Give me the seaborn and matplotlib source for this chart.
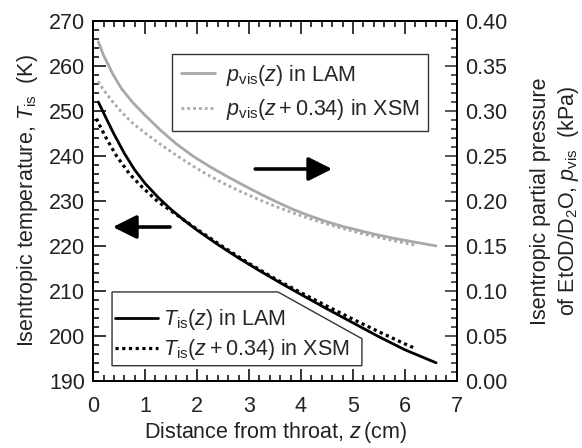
import numpy as np
import pandas as pd
import seaborn as sns
import matplotlib.pyplot as plt
from matplotlib.patches import Polygon
from matplotlib.ticker import MultipleLocator

# isentropic temperature (K), left axis
z_t_lam = [0.1, 0.25, 0.4, 0.6, 0.8, 1.0, 1.25, 1.5, 1.75, 2.0, 2.4, 2.8, 3.2, 3.6, 4.0,
           4.5, 5.0, 5.5, 6.0, 6.6]
t_lam = [252.0, 248.4, 244.9, 240.6, 236.9, 233.9, 230.8, 228.1, 225.7, 223.5, 220.3, 217.3,
         214.5, 211.8, 209.2, 206.0, 202.9, 199.8, 196.9, 194.0]
z_t_xsm = [0.06, 0.25, 0.45, 0.7, 0.95, 1.25, 1.6, 2.0, 2.5, 3.0, 3.5, 4.0, 4.5, 5.0, 5.5,
           6.0, 6.22]
t_xsm = [248.3, 244.0, 240.0, 236.0, 233.0, 229.8, 227.0, 223.7, 219.8, 216.1, 212.7, 209.6,
         206.6, 203.7, 200.9, 198.2, 197.1]

# isentropic partial pressure (kPa), right axis
z_p_lam = [0.1, 0.2, 0.38, 0.55, 0.77, 1.0, 1.29, 1.6, 1.93, 2.25, 2.57, 2.9, 3.21, 3.5, 3.85,
           4.15, 4.49, 4.8, 5.13, 5.45, 5.78, 6.2, 6.6]
p_lam = [0.377, 0.362, 0.341, 0.3245, 0.309, 0.2952, 0.2790, 0.2635, 0.2495, 0.2380, 0.2275,
         0.2172, 0.2080, 0.1997, 0.1905, 0.1838, 0.1770, 0.1717, 0.1670, 0.1625, 0.1585, 0.1541,
         0.1500]
z_p_xsm = [0.1, 0.2, 0.38, 0.55, 0.77, 1.0, 1.29, 1.6, 1.93, 2.25, 2.57, 2.9, 3.21, 3.5, 3.85,
           4.15, 4.49, 4.8, 5.13, 5.45, 5.78, 6.19]
p_xsm = [0.333, 0.3235, 0.310, 0.2985, 0.286, 0.2755, 0.2632, 0.2508, 0.2385, 0.2275, 0.2178,
         0.2088, 0.2010, 0.1942, 0.1866, 0.1806, 0.1745, 0.1694, 0.1644, 0.1600, 0.1558, 0.1510]

sns.set_theme(style="ticks")
plt.rcParams['font.family'] = ['Liberation Sans', 'DejaVu Sans']
plt.rcParams['mathtext.fontset'] = 'custom'
plt.rcParams['mathtext.rm'] = 'Liberation Sans'
plt.rcParams['mathtext.it'] = 'Liberation Sans:italic'

fs = 15.5
txt = '#222222'
grey = '#a8a8a8'

fig, ax = plt.subplots(figsize=(5.82, 4.48), dpi=100)
fig.subplots_adjust(left=0.160, right=0.785, top=0.953, bottom=0.150)
ax2 = ax.twinx()

sns.lineplot(x=z_t_lam, y=t_lam, ax=ax, color='black', lw=2.0,
             label=r'$T_\mathrm{is}(z)$ in LAM')
sns.lineplot(x=z_t_xsm, y=t_xsm, ax=ax, color='black', lw=2.3, linestyle=(0, (1, 1.1)),
             label=r'$T_\mathrm{is}(z+0.34)$ in XSM')
sns.lineplot(x=z_p_lam, y=p_lam, ax=ax2, color=grey, lw=2.0,
             label=r'$p_\mathrm{vis}(z)$ in LAM')
sns.lineplot(x=z_p_xsm, y=p_xsm, ax=ax2, color=grey, lw=2.0, linestyle=(0, (1, 1.1)),
             label=r'$p_\mathrm{vis}(z+0.34)$ in XSM')

ax.set_xlim(0, 7)
ax.set_ylim(190, 270)
ax2.set_ylim(0, 0.4)
ax.xaxis.set_major_locator(MultipleLocator(1))
ax.xaxis.set_minor_locator(MultipleLocator(0.2))
ax.yaxis.set_major_locator(MultipleLocator(10))
ax.yaxis.set_minor_locator(MultipleLocator(2))
ax2.yaxis.set_major_locator(MultipleLocator(0.05))
ax2.yaxis.set_minor_locator(MultipleLocator(0.01))
ax2.yaxis.set_major_formatter(plt.FormatStrFormatter('%.2f'))

for a in (ax, ax2):
    for s in a.spines.values():
        s.set_linewidth(1.3)
        s.set_color('black')
ax.tick_params(which='both', direction='in', top=True, right=False, width=1.1,
               labelsize=fs, colors='black', labelcolor=txt, pad=6)
ax.tick_params(axis='x', which='major', pad=11)
ax.tick_params(which='major', length=9)
ax.tick_params(which='minor', length=4.5)
ax2.tick_params(which='both', direction='in', width=1.1, labelsize=fs,
                labelcolor=txt, pad=6)
ax2.tick_params(which='major', length=9)
ax2.tick_params(which='minor', length=4.5)

ax.set_xlabel(r'Distance from throat, $z\,$(cm)', fontsize=fs, color=txt, labelpad=2)
ax.set_ylabel(r'Isentropic temperature, $T_\mathrm{is}$  (K)', fontsize=fs, color=txt, labelpad=6)
ax2.set_ylabel('Isentropic partial pressure\n' + r'of EtOD/D$_2$O, $p_\mathrm{vis}$  (kPa)',
               fontsize=fs, color=txt, labelpad=16, linespacing=1.3)

# arrows pointing to each axis
arrow = dict(arrowstyle='-|>,head_length=1.2,head_width=0.6', color='black', lw=2.6,
             shrinkA=0, shrinkB=0)
ax.annotate('', xy=(0.38, 224.2), xytext=(1.48, 224.2), arrowprops=arrow)
ax.annotate('', xy=(4.6, 237.1), xytext=(3.12, 237.1), arrowprops=arrow)

# legends
leg2 = ax2.legend(loc='upper left', bbox_to_anchor=(0.217, 0.908), frameon=True,
                  fancybox=False, edgecolor='black', fontsize=fs,
                  handlelength=1.6, handletextpad=0.5, borderpad=0.4, labelspacing=0.45,
                  borderaxespad=0)
leg2.get_frame().set_linewidth(1.0)

leg1 = ax.legend(loc='lower left', bbox_to_anchor=(0.055, 0.045), frameon=False, fontsize=fs,
                 handlelength=2.0, handletextpad=0.2, borderpad=0.1, labelspacing=0.25,
                 borderaxespad=0)
frame = Polygon([(0.052, 0.247), (0.508, 0.247), (0.739, 0.117), (0.739, 0.042), (0.052, 0.042)],
                closed=True, transform=ax.transAxes, facecolor='white', edgecolor='#333333',
                lw=1.0, zorder=2.5)
ax.add_patch(frame)
leg1.set_zorder(3)

plt.savefig('out.png', dpi=100)
